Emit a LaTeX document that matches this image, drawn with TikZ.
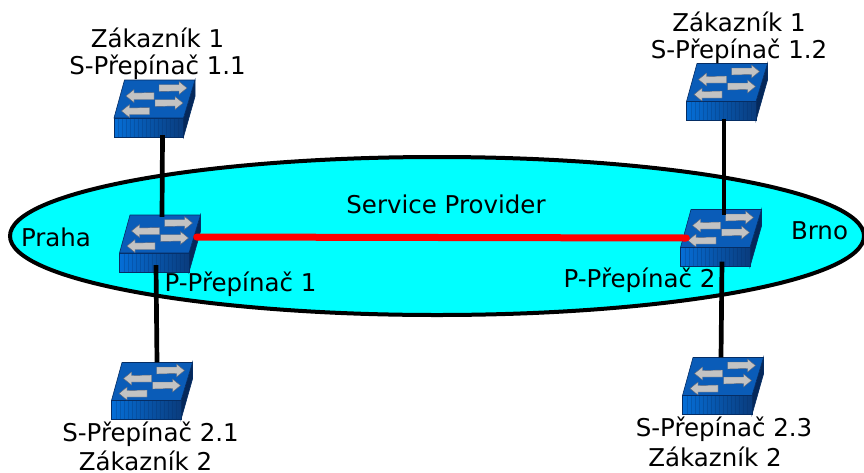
\documentclass[tikz,border=0pt]{standalone}
\usepackage{fontspec}
\setmainfont{DejaVu Sans}
\usetikzlibrary{shapes.geometric}
\tikzset{every node/.style={font=\fontsize{24.5}{27}\selectfont, black, inner sep=0pt, align=center},
  cable/.style={black, line width=4.7pt},
  trunk/.style={red, line width=7pt, line cap=round},
  swspot/.style={minimum width=81pt, minimum height=57pt},
  swtop/.style={fill={rgb,255:red,10;green,92;blue,184}, draw={rgb,255:red,5;green,45;blue,100}, line width=0.6pt},
  swfront/.style={left color={rgb,255:red,5;green,110;blue,215}, right color={rgb,255:red,10;green,60;blue,125}, draw={rgb,255:red,5;green,45;blue,100}, line width=0.6pt},
  swstripe/.style={draw={rgb,255:red,5;green,45;blue,100}, line width=0.5pt, opacity=0.25},
  swside/.style={fill={rgb,255:red,5;green,40;blue,90}, draw={rgb,255:red,5;green,45;blue,100}, line width=0.6pt},
  swarrow/.style={fill={rgb,255:red,195;green,195;blue,195}, draw={rgb,255:red,90;green,100;blue,120}, line width=0.4pt}}
% one switch, #1 = name, #2 = centre
\newcommand{\switchbox}[2]{
  \node[swspot] (#1) at (#2) {};
  \begin{scope}[shift={(#2)}]
    \draw[swside] (40.5,-28.5) -- (40.5,-12) -- (29,28.5) -- (29,9.5) -- cycle;
    \draw[swfront] (-40.5,9.5) -- (29,9.5) -- (29,28.5) -- (-40.5,28.5) -- cycle;
    \foreach \sx in {-36,-32,...,26} {
      \draw[swstripe] (\sx,10) -- (\sx,28);
    }
    \draw[swtop] (-30,-28.5) -- (40.5,-28.5) -- (29,9.5) -- (-40.5,9.5) -- cycle;
    \foreach \ax/\ay in {4.5/-20.5, 0.5/-5.5} {
      \draw[swarrow,shift={(\ax,\ay)}] (0,-3.5) -- (20,-3.5) -- (20,-6.5) -- (28,0) -- (20,6.5) -- (20,3) -- (0,3.5) -- cycle;
    }
    \foreach \ax/\ay in {-0.5/-12.5, -5/2.5} {
      \draw[swarrow,shift={(\ax,\ay)}] (0,-3.5) -- (-20,-3) -- (-20,-6.5) -- (-28,0) -- (-20,6.5) -- (-20,3.5) -- (0,3.5) -- cycle;
    }
  \end{scope}
}

\begin{document}
\begin{tikzpicture}[x=1pt,y=-1pt]
  \useasboundingbox (0,0) rectangle (864,472);
  \fill[white] (0,0) rectangle (864,472);
  \node[ellipse, draw, fill={rgb,255:red,0;green,255;blue,255}, line width=4pt, minimum width=854pt, minimum height=158pt] (provider) at (437,236) {};

  \switchbox{s11}{154.5,108.5}
  \switchbox{s12}{727,92}
  \switchbox{p1}{160,243.5}
  \switchbox{p2}{721,238}
  \switchbox{s21}{152,391}
  \switchbox{s23}{723,386}

  \draw[cable] ([xshift=8pt,yshift=2pt]s11.south) -- ([xshift=2pt,yshift=-2pt]p1.north);
  \draw[cable] ([xshift=-3pt,yshift=2pt]s12.south) -- ([xshift=3pt,yshift=-6pt]p2.north);
  \draw[cable] ([xshift=-4pt,yshift=7pt]p1.south) -- ([xshift=5pt]s21.north);
  \draw[cable] ([xshift=1pt,yshift=5pt]p2.south) -- ([xshift=-2pt]s23.north);
  \draw[trunk] ([xshift=-4pt,yshift=6.5pt]p1.east) -- ([xshift=6pt]p2.west);

  \node (lbls11) at (157.5,54) {Zákazník 1\\S-Přepínač 1.1};
  \node (lbls12) at (739,37.5) {Zákazník 1\\S-Přepínač 1.2};
  \node (lbls21) at (150.5,434) {S-Přepínač 2.1};
  \node (lblz21) at (145.5,460.5) {Zákazník 2};
  \node (lbls23) at (724,429) {S-Přepínač 2.3};
  \node (lblz23) at (715,457) {Zákazník 2};
  \node (lblp1) at (240.5,284) {P-Přepínač 1};
  \node (lblp2) at (639.5,280) {P-Přepínač 2};
  \node (lblsp) at (446,204) {Service Provider};
  \node (lblpraha) at (56,237) {Praha};
  \node (lblbrno) at (819.5,231) {Brno};
\end{tikzpicture}
\end{document}
